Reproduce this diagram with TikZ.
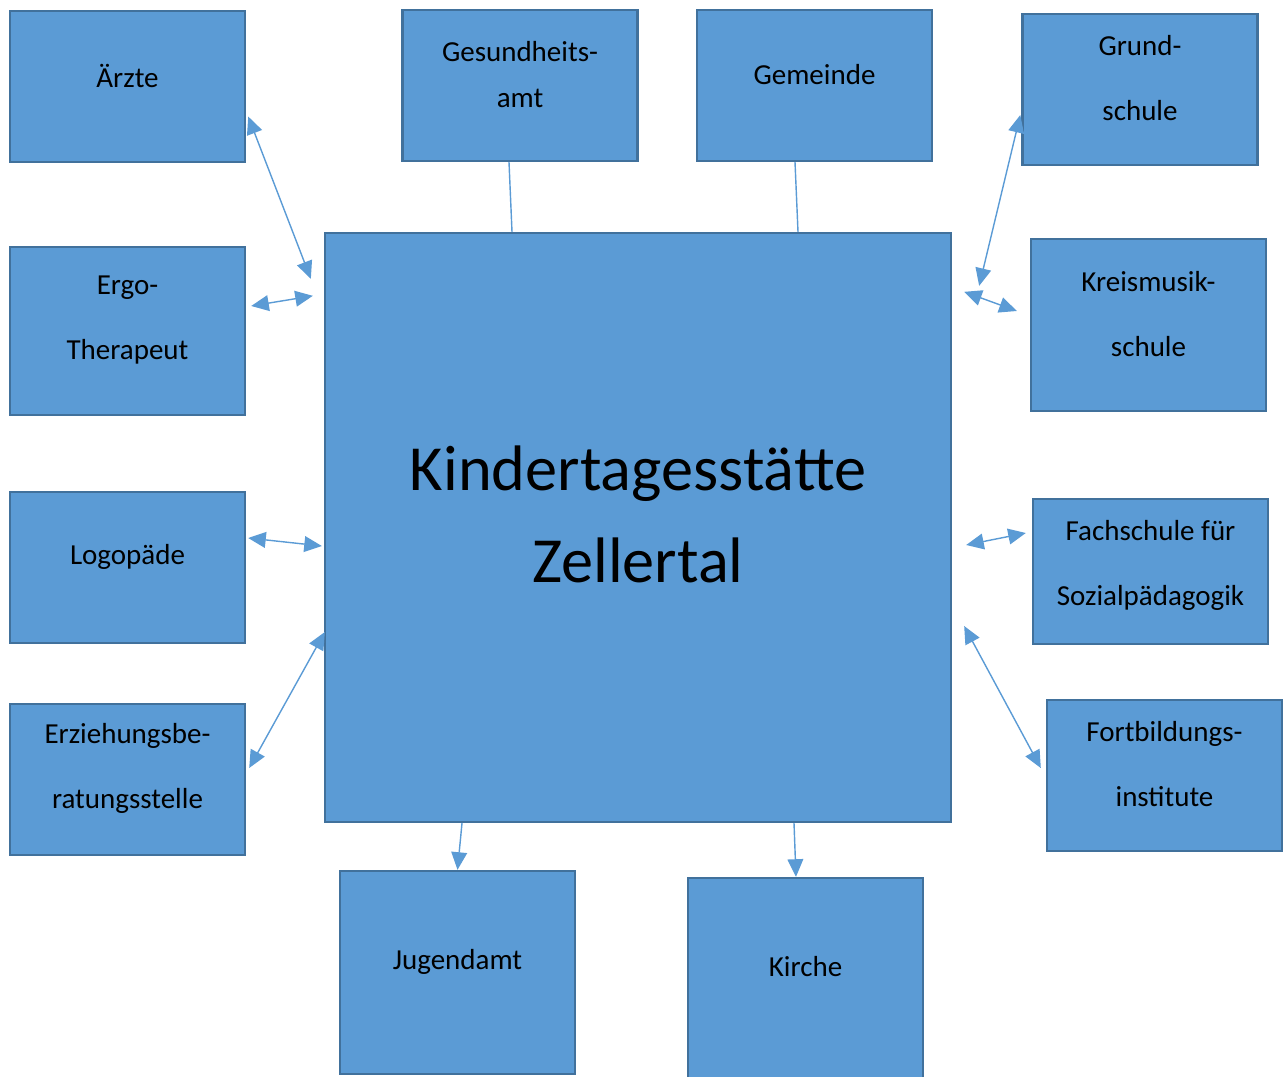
\documentclass[tikz,border=0pt]{standalone}
\usepackage{fontspec}
\setmainfont{Carlito}
\usetikzlibrary{arrows.meta,calc}
\definecolor{kastenblau}{HTML}{5B9BD5}
\definecolor{randblau}{HTML}{41719C}
\tikzset{
  stelle/.style={draw=randblau,line width=1.4pt,fill=kastenblau,minimum width=4.7cm,inner sep=0pt},
  beschr/.style={align=center,inner sep=0pt,font=\fontsize{16.5pt}{37pt}\selectfont},
  verb/.style={draw=kastenblau,line width=0.8pt},
  pfeil/.style={verb,-{Triangle[length=10pt,width=9pt]}},
  doppel/.style={verb,{Triangle[length=10pt,width=9pt]}-{Triangle[length=10pt,width=9pt]}}
}
\begin{document}
\begin{tikzpicture}[x=0.02cm,y=-0.02cm]
    \useasboundingbox (0,0) rectangle (1283,1077);
    \clip (0,0) rectangle (1283,1077);
    \node[stelle,minimum width=12.52cm,minimum height=11.78cm] (kita) at (638,527.5) {};
    \node[align=center,inner sep=0pt,font=\fontsize{36.6pt}{52pt}\selectfont] (kita-t) at ([yshift=0.26cm]kita.center) {Kindertagesstätte\\Zellertal};
    \foreach \nm/\x/\y/\h/\dy/\txt in {aerzte/127.5/86.5/3.02/0.22/{Ärzte},
      gesund/520/85.5/3.02/0.22/{Gesundheits-\\[-11pt]amt},
      gemeinde/814.5/85.5/3.02/0.22/{Gemeinde},
      grund/1140/89.5/3.02/0.22/{Grund-\\schule},
      ergo/127.5/331/3.36/0.22/{Ergo-\\Therapeut},
      kreis/1148.5/325/3.44/0.22/{Kreismusik-\\schule},
      logo/127.5/567.5/3.02/0.22/{Logopäde},
      fach/1150.5/571.5/2.9/0.12/{Fachschule für\\Sozialpädagogik},
      erz/127.5/779.5/3.02/0.22/{Erziehungsbe-\\ratungsstelle},
      fort/1164.5/775.5/3.02/0.22/{Fortbildungs-\\institute},
      jugend/457.5/972.5/4.06/0.22/{Jugendamt},
      kirche/805.5/978/4.0/0.22/{Kirche}}
    {
    \node[stelle,minimum height=\h cm] (\nm) at (\x,\y) {};
    \node[beschr] (\nm-t) at ([yshift=\dy cm]\nm.center) {\txt};
    }
    \draw[doppel] ($(aerzte.east)+(2,30)$) -- ($(kita.north west)+(-13,47)$);
    \draw[doppel] ($(ergo.east)+(5,-25)$) -- ($(kita.north west)+(-11,64)$);
    \draw[doppel] ($(logo.east)+(2,-29.5)$) -- ($(kita.west)+(-2,18.5)$);
    \draw[doppel] ($(erz.east)+(3,-11.5)$) -- ($(kita.west)+(1,104.5)$);
    \draw[verb] ($(gesund.south)+(-11,0)$) -- ($(kita.north)+(-126,0)$);
    \draw[verb] ($(gemeinde.south)+(-19.5,0)$) -- ($(kita.north)+(160,0)$);
    \draw[pfeil] ($(kita.south)+(-176,0)$) -- (jugend.north);
    \draw[pfeil] ($(kita.south)+(156,0)$) -- ($(kirche.north)+(-9.5,0)$);
    \draw[doppel] ($(grund.west)+(-1,25.5)$) -- ($(kita.north east)+(27,54)$);
    \draw[doppel] ($(kita.north east)+(12,60)$) -- ($(kreis.west)+(-13,-14)$);
    \draw[doppel] ($(kita.east)+(14,17.5)$) -- ($(fach.west)+(-6,-38.5)$);
    \draw[doppel] ($(kita.east)+(12,98.5)$) -- ($(fort.west)+(-5,-7.5)$);
  \end{tikzpicture}
\end{document}
